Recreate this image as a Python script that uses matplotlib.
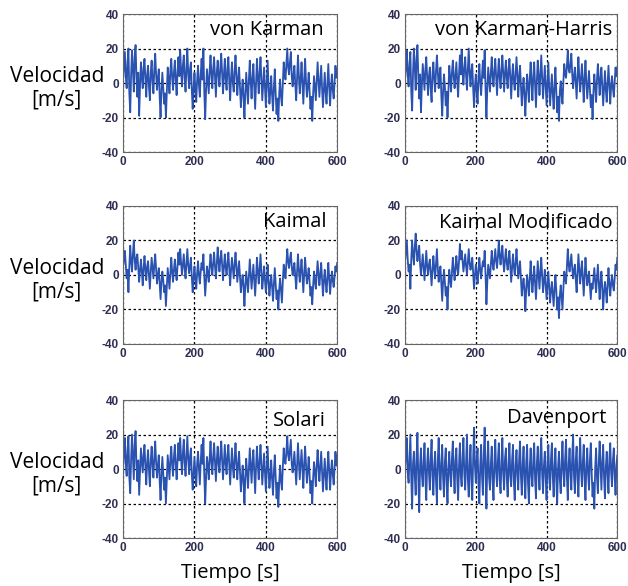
import matplotlib
matplotlib.use("Agg")
import matplotlib.pyplot as plt

plt.rcParams['font.family'] = ['Open Sans', 'DejaVu Sans']
plt.rcParams['axes.unicode_minus'] = False

# tiempo de muestreo (s), paso de 2.5 s
tiempo = [k * 2.5 for k in range(241)]

von_karman = [
    2, 10, 18, 4, -3, 12, 20, -6, -17, 5, 19, 8, -5, 15, 22, 3, -8, 6, -19, -2,
    12, 4, -3, 9, 14, 2, -8, 5, 10, -2, -10, 6, 13, 1, -6, 8, 17, 5, -4, 3,
    8, -8, -20, -4, 6, -3, -12, -6, -20, -5, 9, 2, -6, 7, 14, 3, -4, 6, 13, 2,
    -7, 6, 15, 4, 19, 7, -2, 10, 16, 3, -5, 9, 20, 5, -3, 8, 12, -4, -15, -3,
    6, -4, -11, 2, 10, -1, -8, 5, 14, 2, 20, -5, -21, -4, 8, 1, -6, 7, 16, 5,
    -3, 8, 15, 3, -8, 6, 13, 4, -2, 9, 17, 6, -6, 5, 14, 2, -4, 9, 15, 1,
    -10, 3, 12, 0, -5, 7, 16, 4, -7, 2, 9, -3, -14, -5, 2, -8, -20, -6, 6, -3,
    -12, 2, 13, 1, -9, 3, 11, -2, -15, 0, 14, 3, -6, 6, 15, 2, -10, -1, 9, -3,
    -14, -1, 13, -2, -12, -5, 4, -7, -16, -3, 8, -6, -18, -9, -22, -6, 2, -8, -13, 0,
    12, 6, 2, 11, 20, 9, 5, 12, 18, 4, -2, 5, 10, -1, -10, 3, 16, 4, -6, 2,
    12, 0, -12, 2, 14, 1, -8, -2, 6, -5, -15, -8, -22, -6, 4, -3, -10, 1, 12, 2,
    -8, 1, 10, -3, -14, -4, 6, -5, -12, -1, 11, -2, -13, -3, 5, -4, -9, 0, 10, 3,
    8]

von_karman_harris = [
    3, 9, 19, 5, -2, 11, 18, -5, -16, 6, 20, 9, -4, 14, 22, 4, -9, 5, -17, -1,
    11, 3, -4, 8, 15, 3, -7, 4, 9, -3, -11, 5, 12, 2, -5, 7, 16, 6, -3, 4,
    9, -7, -19, -5, 5, -2, -13, -5, -20, -4, 10, 3, -5, 6, 13, 4, -3, 5, 12, 1,
    -8, 5, 16, 5, 19, 6, -1, 9, 15, 4, -4, 8, 20, 6, -2, 7, 11, -3, -14, -2,
    5, -5, -12, 3, 11, 0, -7, 4, 13, 3, 19, -4, -20, -3, 9, 2, -5, 6, 15, 4,
    -2, 7, 14, 4, -7, 5, 14, 3, -3, 8, 16, 5, -5, 6, 13, 3, -3, 8, 14, 2,
    -9, 4, 11, 1, -4, 6, 15, 5, -8, 3, 10, -2, -13, -4, 3, -7, -19, -5, 5, -2,
    -11, 3, 12, 0, -10, 4, 12, -1, -14, 1, 13, 4, -7, 5, 16, 3, -9, 0, 10, -2,
    -13, 0, 12, -3, -13, -4, 5, -6, -15, -2, 9, -5, -17, -8, -22, -5, 1, -7, -12, 1,
    11, 5, 3, 10, 19, 8, 6, 11, 17, 5, -3, 4, 9, 0, -9, 4, 15, 3, -5, 3,
    11, 1, -11, 3, 13, 0, -9, -1, 7, -4, -14, -7, -21, -5, 5, -2, -11, 2, 11, 3,
    -7, 2, 9, -2, -13, -3, 7, -4, -11, 0, 10, -1, -12, -2, 4, -3, -8, 1, 9, 4,
    9]

kaimal = [
    5, 9, 14, 6, -2, 3, -10, 5, 17, 8, 2, 12, 20, 9, 3, 10, 12, 4, -4, 3,
    9, 2, -6, 4, 11, 3, -3, 5, 8, 0, -8, 2, 10, 4, -2, 6, 12, 3, -5, 0,
    4, -5, -14, -4, 2, -3, -10, -6, -18, -7, 4, -2, -8, 1, 10, 2, -4, 3, 9, 2,
    -3, 5, 13, 6, 15, 7, 0, 6, 12, 4, -2, 7, 15, 6, 1, 5, 10, -1, -10, -2,
    5, -2, -8, 1, 8, 0, -5, 2, 7, 3, 12, -1, -12, -3, 5, 1, -4, 5, 12, 5,
    0, 7, 13, 5, -2, 6, 16, 8, 2, 9, 14, 6, -3, 5, 12, 4, 0, 7, 13, 4,
    -6, 3, 10, 4, -2, 6, 13, 5, -4, 2, 8, -1, -10, -4, 0, -7, -18, -6, 2, -4,
    -10, -1, 9, 0, -8, -1, 6, -3, -12, -2, 10, 2, -5, 4, 12, 2, -8, -2, 5, -3,
    -10, -3, 6, -4, -12, -5, 0, -7, -15, -6, 4, -5, -14, -9, -20, -8, -2, -9, -16, -4,
    6, 3, -2, 7, 15, 8, 4, 9, 13, 5, 0, 4, 7, -1, -8, 2, 12, 3, -4, 3,
    9, 0, -10, 1, 10, 2, -5, -1, 4, -4, -12, -7, -17, -6, 2, -4, -8, 0, 8, 1,
    -6, 0, 7, -3, -12, -4, 3, -4, -10, -2, 7, -2, -11, -4, 2, -3, -7, -1, 5, 2,
    7]

kaimal_mod = [
    8, 14, 20, 9, 2, 6, -8, 9, 20, 12, 6, 16, 24, 14, 8, 13, 17, 6, 0, 6,
    12, 4, -3, 6, 14, 5, 0, 6, 9, 1, -6, 3, 11, 4, -2, 7, 15, 4, -4, 1,
    5, -5, -15, -4, 3, -4, -12, -7, -20, -6, 3, -3, -7, 2, 10, 3, -3, 4, 11, 4,
    0, 8, 18, 9, 14, 8, 2, 7, 12, 5, 0, 8, 15, 7, 3, 6, 10, 1, -8, 0,
    6, 1, -5, 3, 10, 3, -2, 4, 8, 5, 14, 0, -17, -4, 6, 2, -2, 6, 14, 7,
    3, 9, 15, 8, 4, 11, 20, 11, 6, 12, 17, 8, 2, 9, 15, 7, 3, 9, 14, 5,
    -4, 4, 12, 5, 0, 7, 15, 6, -2, 3, 8, -2, -12, -6, -2, -9, -21, -8, 0, -5,
    -12, -2, 8, -2, -10, -3, 5, -5, -14, -3, 8, 0, -8, 2, 10, 0, -10, -4, 3, -6,
    -14, -6, 2, -7, -16, -9, -4, -11, -18, -8, 0, -9, -20, -13, -25, -12, -6, -13, -20, -8,
    2, -2, -5, 5, 15, 6, 2, 7, 12, 4, -2, 3, 6, -3, -10, 1, 12, 3, -5, 2,
    8, -2, -12, -1, 10, 1, -6, -3, 2, -6, -14, -5, -8, -2, 4, -4, -10, -2, 6, -4,
    -14, -5, 2, -8, -20, -10, -4, -9, -16, -6, 4, -5, -12, -5, 0, -6, -9, -2, 6, 3,
    10]

solari = [
    1, 9, 18, 3, -4, 11, 19, -5, -14, 6, 20, 7, -6, 14, 22, 2, -7, 5, -15, -1,
    12, 5, -2, 8, 14, 1, -9, 4, 11, -1, -10, 5, 13, 2, -5, 7, 16, 4, -5, 2,
    8, -7, -18, -3, 7, -2, -12, -5, -20, -6, 8, 1, -6, 6, 13, 2, -4, 7, 14, 3,
    -6, 5, 15, 5, 18, 6, -3, 9, 17, 4, -4, 8, 19, 6, -3, 7, 12, -3, -12, -2,
    7, -3, -10, 3, 10, 0, -9, 4, 14, 3, 18, -4, -20, -5, 7, 2, -6, 6, 16, 4,
    -3, 7, 15, 4, -7, 5, 13, 3, -2, 8, 16, 5, -6, 4, 14, 3, -3, 8, 14, 2,
    -9, 2, 12, 1, -5, 6, 15, 3, -6, 3, 10, -2, -13, -6, 2, -7, -20, -5, 6, -2,
    -11, 1, 12, 2, -8, 4, 11, -1, -14, 1, 13, 2, -6, 5, 14, 3, -9, 0, 9, -2,
    -13, 0, 13, -1, -11, -4, 5, -6, -15, -2, 8, -5, -17, -8, -22, -7, 2, -7, -12, 1,
    12, 5, 3, 10, 19, 8, 5, 11, 17, 3, -2, 4, 10, 0, -9, 2, 15, 5, -6, 3,
    11, 1, -11, 3, 13, 2, -8, -1, 7, -4, -14, -7, -20, -5, 4, -2, -10, 2, 11, 1,
    -7, 2, 10, -2, -13, -3, 6, -4, -12, 0, 10, -1, -12, -2, 5, -3, -9, 1, 10, 2,
    8]

davenport = [
    0, 8, 18, -2, -8, 6, 20, -5, -23, 3, 10, -4, -15, 7, 21, -6, -25, 2, 12, -3,
    -10, 4, 15, -6, -18, 3, 12, -2, -12, 6, 17, -4, -15, 2, 10, -7, -20, 5, 18, -1,
    -12, 3, 14, -5, -16, 4, 12, -8, -20, 1, 10, -3, -10, 6, 16, -2, -14, 5, 12, -6,
    -18, 2, 15, -4, -10, 7, 18, -3, -12, 5, 20, -6, -16, 3, 14, -7, -18, 6, 24, 2,
    -8, 5, 12, -9, -20, 2, 14, -4, -15, 8, 24, -2, -23, 4, 16, -5, -12, 3, 13, -7,
    -18, 3, 17, -2, -10, 5, 15, -6, -14, 4, 18, -3, -12, 6, 12, -5, -16, 2, 15, -4,
    -10, 5, 14, -7, -18, 2, 11, -3, -12, 6, 16, -4, -15, 3, 13, -6, -17, 4, 14, -8,
    -20, 1, 12, -4, -10, 5, 15, -6, -17, 3, 13, -2, -12, 7, 18, -3, -14, 2, 10, -5,
    -18, 3, 14, -5, -12, 6, 15, -4, -16, 2, 12, -7, -20, 1, 10, -6, -14, 4, 16, -2,
    -10, 6, 17, -5, -18, 3, 12, -2, -12, 7, 20, -4, -14, 5, 13, -6, -16, 3, 18, -1,
    -10, 4, 14, -6, -18, 2, 12, -3, -12, 5, 15, -2, -16, -8, -23, 1, 12, -5, -14, 3,
    16, 2, -12, 4, 14, -5, -17, 1, 10, -3, -14, 6, 15, -2, -10, 5, 12, -4, -15, 2,
    8]

series = [
    ("von Karman", von_karman),
    ("von Karman-Harris", von_karman_harris),
    ("Kaimal", kaimal),
    ("Kaimal Modificado", kaimal_mod),
    ("Solari", solari),
    ("Davenport", davenport),
]

# posiciones de los ejes (fraccion de figura)
lefts = [0.196, 0.645]
widths = [0.341, 0.338]
bottoms = [0.7406, 0.413, 0.0819]
height = 0.2355
label_x = [0.935, 0.976, 0.949, 0.976, 0.946, 0.95]
label_y = [0.848, 0.848, 0.848, 0.84, 0.813, 0.83]

fig = plt.figure(figsize=(6.28, 5.86), dpi=100)

for i, (name, vals) in enumerate(series):
    row, col = divmod(i, 2)
    ax = fig.add_axes([lefts[col], bottoms[row], widths[col], height])
    ax.plot(tiempo, vals, color="#2a52b0", linewidth=1.3)
    ax.set_xlim(0, 600)
    ax.set_ylim(-40, 40)
    ax.set_xticks([0, 200, 400, 600])
    ax.set_yticks([-40, -20, 0, 20, 40])
    ax.grid(True, color="black", linestyle=(0, (2, 2)), linewidth=0.9)
    ax.tick_params(labelsize=8.5, labelcolor="#2e2e52", length=0, pad=3)
    for lbl in ax.get_xticklabels() + ax.get_yticklabels():
        lbl.set_family("Liberation Sans")
        lbl.set_weight("bold")
    for sp in ax.spines.values():
        sp.set_color("#666666")
    ax.text(label_x[i], label_y[i], name, transform=ax.transAxes,
            ha="right", va="baseline", fontsize=14.5, color="black")
    if col == 0:
        ax.set_ylabel("Velocidad\n[m/s]", rotation=0, fontsize=15,
                      ha="center", va="center", labelpad=0, linespacing=1.15)
        ax.yaxis.set_label_coords(-0.31, 0.46)
    if row == 2:
        ax.set_xlabel("Tiempo [s]", fontsize=14.5, labelpad=6)

fig.savefig("out.png", dpi=100, facecolor="white")
